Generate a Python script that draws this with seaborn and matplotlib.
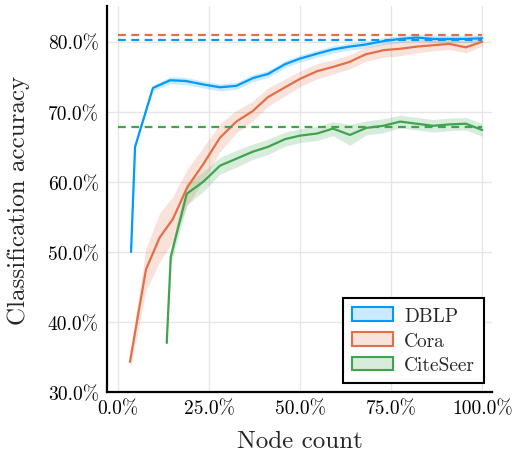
import matplotlib
matplotlib.use('Agg')
import matplotlib.pyplot as plt
import seaborn as sns
import numpy as np
from matplotlib.patches import Patch
from matplotlib.ticker import FuncFormatter

# Values (node count %, accuracy %)
dblp_x = [3.6, 4.7, 9.6, 14.3, 18.6, 23.4, 28, 32.5, 37, 41.2, 45.9, 50, 54.7, 59, 63.5, 68, 73, 77.5, 82, 86.5, 91, 95.5, 100]
dblp_y = [50.0, 65.0, 73.4, 74.5, 74.4, 73.9, 73.5, 73.7, 74.8, 75.4, 76.8, 77.6, 78.3, 78.9, 79.3, 79.6, 80.1, 80.4, 80.6, 80.4, 80.4, 80.4, 80.5]
dblp_sd = [0.2, 0.3, 0.4, 0.5, 0.5, 0.5, 0.5, 0.5, 0.5, 0.5, 0.5, 0.5, 0.5, 0.5, 0.5, 0.5, 0.5, 0.5, 0.5, 0.5, 0.5, 0.5, 0.5]

cora_x = [3.3, 7.7, 11.5, 15.1, 19, 23.4, 28, 32.5, 37, 41.2, 45.9, 50, 54.7, 59, 63.5, 68, 73, 77.5, 82, 86.5, 91, 95.5, 100]
cora_y = [34.3, 47.5, 52.1, 54.7, 59.2, 62.5, 66.3, 68.6, 70.1, 72.1, 73.5, 74.7, 75.8, 76.4, 77.1, 78.2, 78.8, 79.0, 79.3, 79.5, 79.7, 79.2, 80.0]
cora_sd = [1.2, 3.0, 3.5, 3.2, 2.6, 2.4, 2.0, 1.6, 1.4, 1.3, 1.2, 1.1, 1.1, 1.0, 1.0, 1.0, 1.0, 1.0, 0.9, 0.8, 0.8, 0.8, 0.6]

cite_x = [13.4, 14.5, 18.9, 23.4, 28, 32.5, 37, 41.2, 45.9, 50, 54.7, 59, 63.7, 68.2, 72.8, 77.5, 82, 86.5, 91, 95.5, 100]
cite_y = [37.0, 49.3, 58.3, 60.0, 62.3, 63.3, 64.3, 65.0, 66.1, 66.6, 66.9, 67.6, 66.7, 67.7, 68.0, 68.6, 68.3, 68.0, 68.2, 68.3, 67.4]
cite_sd = [0.3, 1.2, 1.6, 1.4, 1.2, 1.2, 1.1, 1.1, 1.0, 1.0, 1.0, 1.0, 1.5, 1.0, 1.0, 0.9, 0.9, 0.9, 0.9, 0.9, 0.9]

labels = ['DBLP', 'Cora', 'CiteSeer']
baselines = [80.2, 80.9, 67.8]
colors = ['#009AFA', '#E36F47', '#3EA44E']

sns.set_style('white')
plt.rcParams['font.family'] = ['cmr10', 'DejaVu Serif']
plt.rcParams['axes.formatter.use_mathtext'] = True
plt.rcParams['mathtext.fontset'] = 'cm'

fig = plt.figure(figsize=(5.13, 4.52), dpi=100)
ax = fig.add_axes([0.2086, 0.1305, 0.7505, 0.854])

series = [(dblp_x, dblp_y, dblp_sd), (cora_x, cora_y, cora_sd), (cite_x, cite_y, cite_sd)]
for (xs, ys, sd), lab, col, base in zip(series, labels, colors, baselines):
    xs = np.array(xs) / 100
    ys = np.array(ys) / 100
    sd = np.array(sd) / 100
    ax.fill_between(xs, ys - sd, ys + sd, color=col, alpha=0.2, linewidth=0)
    sns.lineplot(x=xs, y=ys, color=col, linewidth=1.6, ax=ax, legend=False)
    ax.hlines(base / 100, 0, 1, colors=col, linestyles=(0, (3.5, 2.5)), linewidth=1.6)

ax.set_xlim(-0.03, 1.027)
ax.set_ylim(0.30, 0.851)
ax.set_xticks([0, 0.25, 0.5, 0.75, 1.0])
ax.set_yticks([0.3, 0.4, 0.5, 0.6, 0.7, 0.8])
fmt = FuncFormatter(lambda v, p: f'{v * 100:.1f}%')
ax.xaxis.set_major_formatter(fmt)
ax.yaxis.set_major_formatter(fmt)
ax.tick_params(direction='in', length=4, width=1, labelsize=14, colors='black')
ax.tick_params(axis='y', pad=6)
ax.tick_params(axis='x', pad=5)
ax.grid(True, color='#e6e6e6', linewidth=1)
ax.set_axisbelow(True)
for s in ['top', 'right']:
    ax.spines[s].set_visible(False)
for s in ['left', 'bottom']:
    ax.spines[s].set_linewidth(1.6)
    ax.spines[s].set_color('black')

ax.set_xlabel('Node count', fontsize=18, labelpad=9)
ax.set_ylabel('Classification accuracy', fontsize=18, labelpad=13)

handles = [Patch(facecolor=matplotlib.colors.to_rgba(c, 0.2), edgecolor=c, linewidth=1.5) for c in colors]
leg = ax.legend(handles, labels, loc='lower right', bbox_to_anchor=(0.979, 0.023),
                borderaxespad=0, fontsize=14, frameon=True, fancybox=False, framealpha=1,
                edgecolor='black', handlelength=2.1, handleheight=0.7, handletextpad=0.6,
                borderpad=0.45, labelspacing=0.35)
leg.get_frame().set_linewidth(1.5)

fig.savefig('out.png', dpi=100)
